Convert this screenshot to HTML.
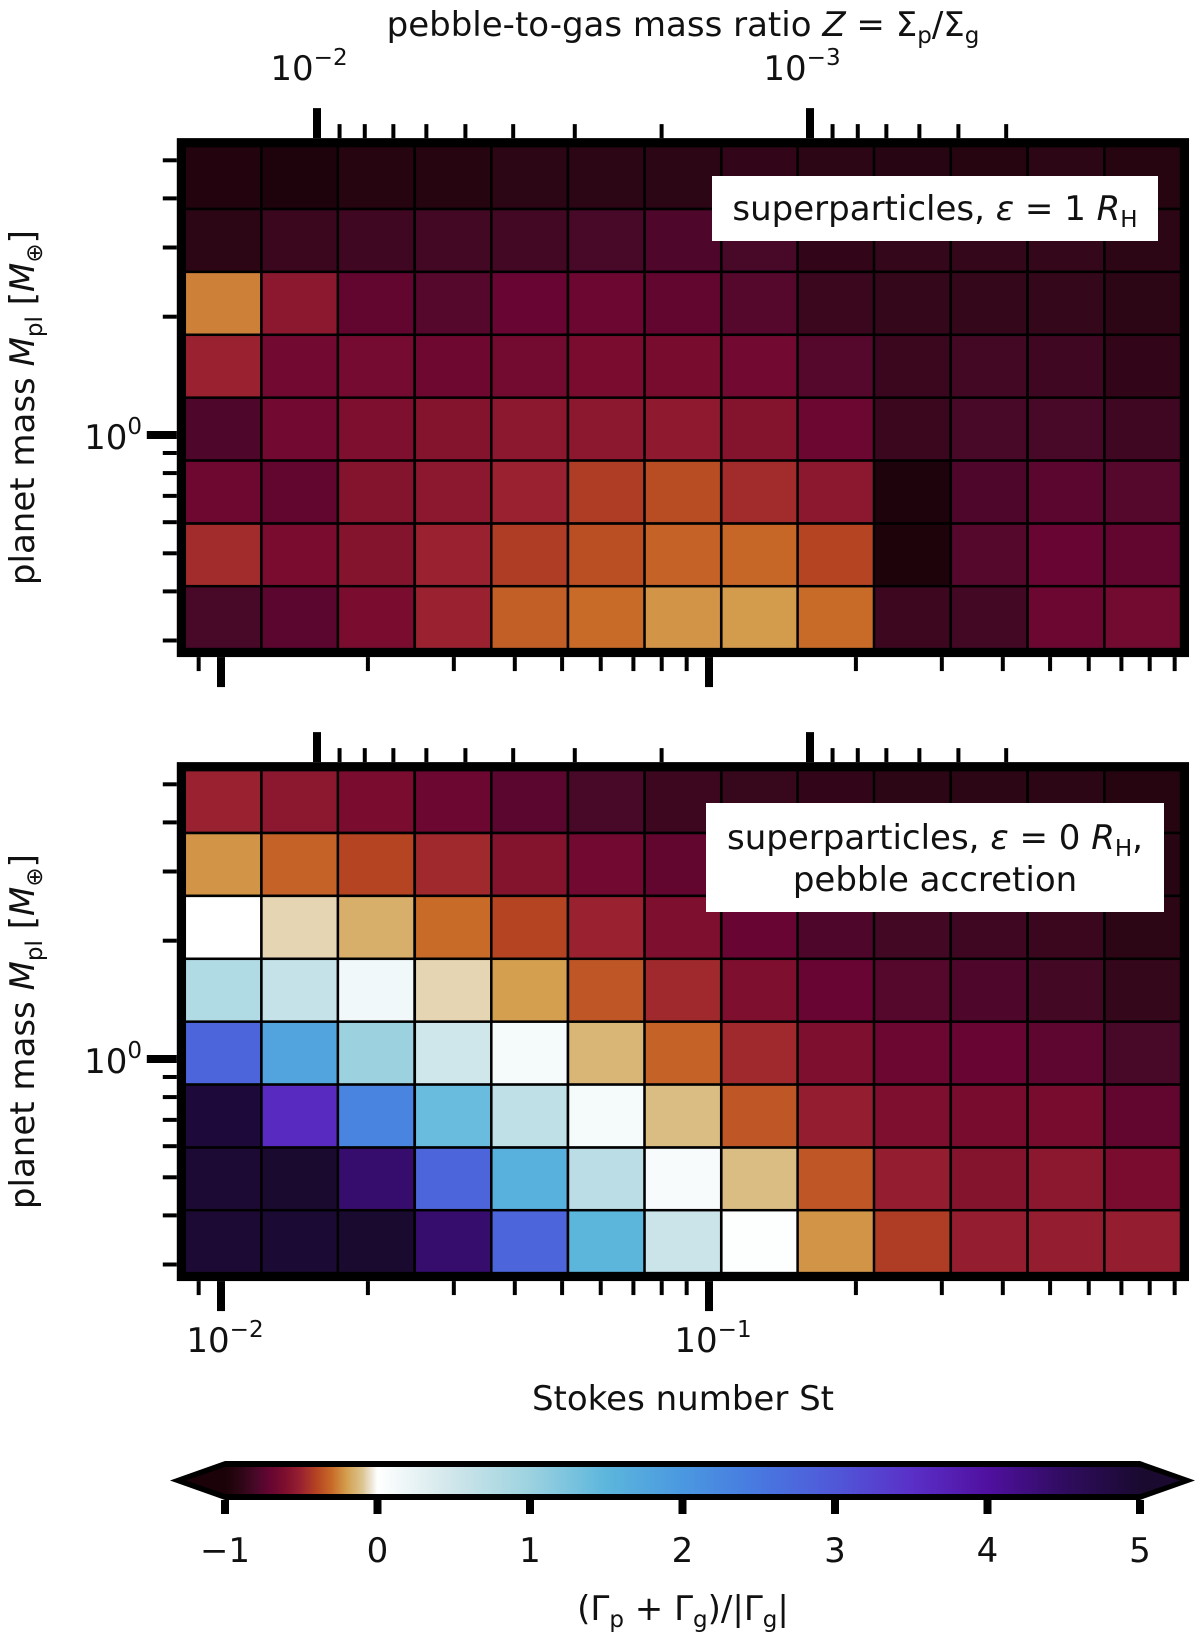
<!DOCTYPE html>
<html><head><meta charset="utf-8"><style>
body{margin:0;background:#fff}
svg text{font-family:"DejaVu Sans","Liberation Sans",sans-serif;fill:#111}
</style></head><body>
<svg id="fig" xmlns="http://www.w3.org/2000/svg" width="1200" height="1633" viewBox="0 0 1200 1633">
<defs>
<linearGradient id="cbg" x1="0" x2="1" y1="0" y2="0"></linearGradient>
</defs>
<g id="root"></g>
</svg>
<script>
const stokes = [0.0101,0.0145,0.0208,0.0299,0.0429,0.0616,0.0884,0.127,0.182,0.261,0.375,0.539,0.774];
const masses = [4.519,3.126,2.163,1.496,1.035,0.716,0.495,0.343];
const topValues = [
[-0.95,-0.97,-0.93,-0.93,-0.9,-0.9,-0.9,-0.88,-0.9,-0.92,-0.93,-0.9,-0.93],
[-0.9,-0.85,-0.83,-0.82,-0.82,-0.8,-0.78,-0.8,-0.88,-0.87,-0.87,-0.87,-0.9],
[-0.26,-0.55,-0.72,-0.76,-0.7,-0.68,-0.72,-0.76,-0.85,-0.87,-0.87,-0.87,-0.9],
[-0.5,-0.66,-0.64,-0.67,-0.65,-0.62,-0.63,-0.66,-0.76,-0.85,-0.82,-0.83,-0.88],
[-0.78,-0.66,-0.6,-0.58,-0.55,-0.55,-0.54,-0.58,-0.68,-0.85,-0.8,-0.8,-0.83],
[-0.67,-0.72,-0.58,-0.55,-0.5,-0.42,-0.38,-0.47,-0.55,-0.97,-0.78,-0.74,-0.76],
[-0.47,-0.62,-0.58,-0.5,-0.42,-0.37,-0.32,-0.31,-0.4,-0.98,-0.76,-0.7,-0.72],
[-0.8,-0.74,-0.62,-0.5,-0.33,-0.3,-0.22,-0.21,-0.3,-0.84,-0.82,-0.68,-0.65]];
const bottomValues = [
[-0.5,-0.55,-0.62,-0.68,-0.74,-0.8,-0.84,-0.86,-0.88,-0.9,-0.9,-0.9,-0.93],
[-0.22,-0.32,-0.4,-0.48,-0.58,-0.66,-0.72,-0.8,-0.85,-0.87,-0.88,-0.9,-0.92],
[0,-0.07,-0.16,-0.3,-0.4,-0.5,-0.6,-0.7,-0.78,-0.82,-0.83,-0.85,-0.9],
[0.8,0.6,0.15,-0.07,-0.2,-0.35,-0.48,-0.6,-0.7,-0.76,-0.78,-0.82,-0.87],
[2.8,1.8,1.0,0.5,0.1,-0.14,-0.32,-0.48,-0.6,-0.68,-0.7,-0.73,-0.8],
[4.9,3.6,2.3,1.4,0.65,0.1,-0.12,-0.35,-0.52,-0.6,-0.63,-0.63,-0.72],
[4.95,5,4.4,2.8,1.6,0.7,0.08,-0.12,-0.35,-0.52,-0.58,-0.55,-0.62],
[4.95,4.97,5,4.4,2.8,1.5,0.55,0.02,-0.22,-0.42,-0.52,-0.52,-0.52]];
const stTickLabels = ["10","10"];
const stMajor = [0.01,0.1];
const zMajor = [0.01,0.001];
const zLabels = ["−2","−3"];
const cbTicks = [-1,0,1,2,3,4,5];
const cbLabels = ["−1","0","1","2","3","4","5"];

const stops = [[-1,"#1a0208"],[-0.9,"#2c0614"],[-0.8,"#480828"],[-0.7,"#680532"],[-0.6,"#7e0f2e"],[-0.5,"#9a2230"],[-0.4,"#b44422"],[-0.3,"#c86a28"],[-0.2,"#d4a050"],[-0.1,"#dcc490"],[-0.03,"#f0ece0"],[0,"#ffffff"],[0.5,"#cfe6ea"],[1,"#9cd2e0"],[1.5,"#5cb6dc"],[2,"#4a98e0"],[2.5,"#4878e0"],[3,"#5058d8"],[3.5,"#5a30c8"],[4,"#5010a0"],[4.5,"#300c60"],[5,"#1a0a30"]];
function hex(h){return [1,3,5].map(i=>parseInt(h.substr(i,2),16));}
function cmap(v){
  if(v<=stops[0][0])return stops[0][1];
  for(let i=1;i<stops.length;i++){
    if(v<=stops[i][0]){const a=hex(stops[i-1][1]),b=hex(stops[i][1]);const t=(v-stops[i-1][0])/(stops[i][0]-stops[i-1][0]);
      return "rgb("+a.map((x,k)=>Math.round(x+(b[k]-x)*t)).join(",")+")";}
  }
  return stops[stops.length-1][1];
}
const NS="http://www.w3.org/2000/svg";
const root=document.getElementById("root");
function el(tag,attrs,parent){const e=document.createElementNS(NS,tag);for(const k in attrs)e.setAttribute(k,attrs[k]);(parent||root).appendChild(e);return e;}
const L=Math.log10;
const xDec=488, x10m2=221;
function xs(st){return x10m2+(L(st)+2)*xDec;}
const zDec=493, z10m2=317;
function xz(z){return z10m2+(-2-L(z))*zDec;}
const yDec=393;
const half = (L(stokes[1])-L(stokes[0]))/2;
const mhalf = (L(masses[0])-L(masses[1]))/2;
const FS=34, FSS=23;

function panel(y1, values, name, boxLines, boxRect, showTopLabels, showBottomLabels){
  const g=el("g",{});
  
  
  const ys=m=>y1-L(m)*yDec;
  const left=xs(Math.pow(10,L(stokes[0])-half)), right=xs(Math.pow(10,L(stokes[12])+half));
  const top=ys(Math.pow(10,L(masses[0])+mhalf)), bot=ys(Math.pow(10,L(masses[7])-mhalf));
  values.forEach((row,r)=>row.forEach((v,c)=>{
    const x0=xs(Math.pow(10,L(stokes[c])-half)),x1=xs(Math.pow(10,L(stokes[c])+half));
    const ya=ys(Math.pow(10,L(masses[r])+mhalf)),yb=ys(Math.pow(10,L(masses[r])-mhalf));
    const rc=el("rect",{x:x0,y:ya,width:x1-x0,height:yb-ya,fill:cmap(v),stroke:"#000","stroke-width":2.5},g);
    
    
  }));
  const fr=el("rect",{x:left-4,y:top-4,width:right-left+8,height:bot-top+8,fill:"none",stroke:"#000","stroke-width":8},g);
  
  
  const ob=top-8, bb=bot+8, lb=left-8;
  for(let e=-3;e<=0;e++)for(let k=1;k<10;k++){
    const v=k*Math.pow(10,e); const x=xs(v); if(x<left||x>right)continue;
    const maj=k===1; el("line",{x1:x,x2:x,y1:bb,y2:bb+(maj?30:14),stroke:"#000","stroke-width":maj?8:4},g);
  }
  for(let e=-4;e<=-2;e++)for(let k=1;k<10;k++){
    const v=k*Math.pow(10,e); const x=xz(v); if(x<left||x>right)continue;
    if(e===-4&&k<4)continue;
    const maj=k===1; el("line",{x1:x,x2:x,y1:ob,y2:ob-(maj?30:14),stroke:"#000","stroke-width":maj?8:4},g);
  }
  for(let e=-1;e<=0;e++)for(let k=1;k<10;k++){
    const v=k*Math.pow(10,e); const y=ys(v); if(y<top||y>bot)continue;
    const maj=k===1&&e===0; el("line",{x1:lb,x2:lb-(maj?30:14),y1:y,y2:y,stroke:"#000","stroke-width":maj?8:4},g);
  }
  const yl=el("text",{x:142,y:ys(1)+14,"font-size":FS,"text-anchor":"end"},g);
  yl.innerHTML='10<tspan dy="-15" font-size="'+FSS+'">0</tspan>';
  
  
  const yt=el("text",{transform:`translate(34,${(top+bot)/2+10}) rotate(-90)`,"font-size":FS,"text-anchor":"middle"},g);
  yt.innerHTML='planet mass <tspan font-style="italic">M</tspan><tspan font-size="'+FSS+'" dy="8">pl</tspan><tspan dy="-8"> [</tspan><tspan font-style="italic">M</tspan><tspan font-size="'+FSS+'" dy="8">⊕</tspan><tspan dy="-8">]</tspan>';
  
  
  if(showTopLabels){
    zMajor.forEach((z,i)=>{const t=el("text",{x:xz(z)-8,y:80,"font-size":FS,"text-anchor":"middle"},g);
      t.innerHTML='10<tspan dy="-15" font-size="'+FSS+'">'+zLabels[i]+'</tspan>';
      
      });
  }
  if(showBottomLabels){
    stMajor.forEach((s,i)=>{const t=el("text",{x:xs(s)+4,y:1352,"font-size":FS,"text-anchor":"middle"},g);
      t.innerHTML=stTickLabels[i]+'<tspan dy="-15" font-size="'+FSS+'">'+(i===0?'−2':'−1')+'</tspan>';
      
      });
  }
  const lg=el("g",{},g);
  
  
  el("rect",{x:boxRect[0],y:boxRect[1],width:boxRect[2],height:boxRect[3],fill:"#fff"},lg);
  boxLines.forEach((ln,i)=>{const t=el("text",{x:boxRect[0]+boxRect[2]/2,y:ln[1],"font-size":FS,"text-anchor":"middle"},lg);t.innerHTML=ln[0];});
}
panel(435, topValues, 'top-panel',
  [['superparticles, <tspan font-style="italic">ε</tspan> = 1 <tspan font-style="italic">R</tspan><tspan font-size="'+FSS+'" dy="7">H</tspan>',220]],
  [712,176,446,65], true, false);
panel(1059, bottomValues, 'bottom-panel',
  [['superparticles, <tspan font-style="italic">ε</tspan> = 0 <tspan font-style="italic">R</tspan><tspan font-size="'+FSS+'" dy="7">H</tspan><tspan dy="-7">,</tspan>',849],['pebble accretion',891]],
  [706,803,458,109], false, true);

const tt=el("text",{x:683,y:36,"font-size":FS,"text-anchor":"middle"});
tt.innerHTML='pebble-to-gas mass ratio <tspan font-style="italic">Z</tspan> = Σ<tspan font-size="'+FSS+'" dy="7">p</tspan><tspan dy="-7">/Σ</tspan><tspan font-size="'+FSS+'" dy="7">g</tspan>';


const xt=el("text",{x:683,y:1410,"font-size":FS,"text-anchor":"middle"});
xt.textContent='Stokes number St';



const grad=document.getElementById("cbg");
stops.forEach(s=>el("stop",{offset:((s[0]+1)/6),"stop-color":s[1]},grad));
const cbx0=225, cbx1=1140, cby0=1461, cby1=1500;
const cbs=v=>cbx0+(v+1)/6*(cbx1-cbx0);
const cb=el("g",{});


el("polygon",{points:`${cbx0},${cby0} ${cbx1},${cby0} ${1195},${(cby0+cby1)/2} ${cbx1},${cby1} ${cbx0},${cby1} ${170},${(cby0+cby1)/2}`,fill:"#000"},cb);
el("polygon",{points:`${cbx0},${cby0+6} ${cbx1},${cby0+6} ${1180},${(cby0+cby1)/2} ${cbx1},${cby1-6} ${cbx0},${cby1-6} ${186},${(cby0+cby1)/2}`,fill:"#1a0208"},cb);
el("polygon",{points:`${cbx1},${cby0+6} ${1180},${(cby0+cby1)/2} ${cbx1},${cby1-6}`,fill:"#1a0a30"},cb);
el("rect",{x:cbx0,y:cby0+6,width:cbx1-cbx0,height:cby1-cby0-12,fill:"url(#cbg)"},cb);
cbTicks.forEach((v,i)=>{
  el("line",{x1:cbs(v),x2:cbs(v),y1:cby1,y2:cby1+14,stroke:"#000","stroke-width":8},cb);
  const t=el("text",{x:cbs(v),y:1562,"font-size":FS,"text-anchor":"middle"},cb);
  t.textContent=cbLabels[i];
  
  
});
const ct=el("text",{x:683,y:1620,"font-size":FS,"text-anchor":"middle"});
ct.innerHTML='(Γ<tspan font-size="'+FSS+'" dy="7">p</tspan><tspan dy="-7"> + Γ</tspan><tspan font-size="'+FSS+'" dy="7">g</tspan><tspan dy="-7">)/|Γ</tspan><tspan font-size="'+FSS+'" dy="7">g</tspan><tspan dy="-7">|</tspan>';


</script>
</body></html>
